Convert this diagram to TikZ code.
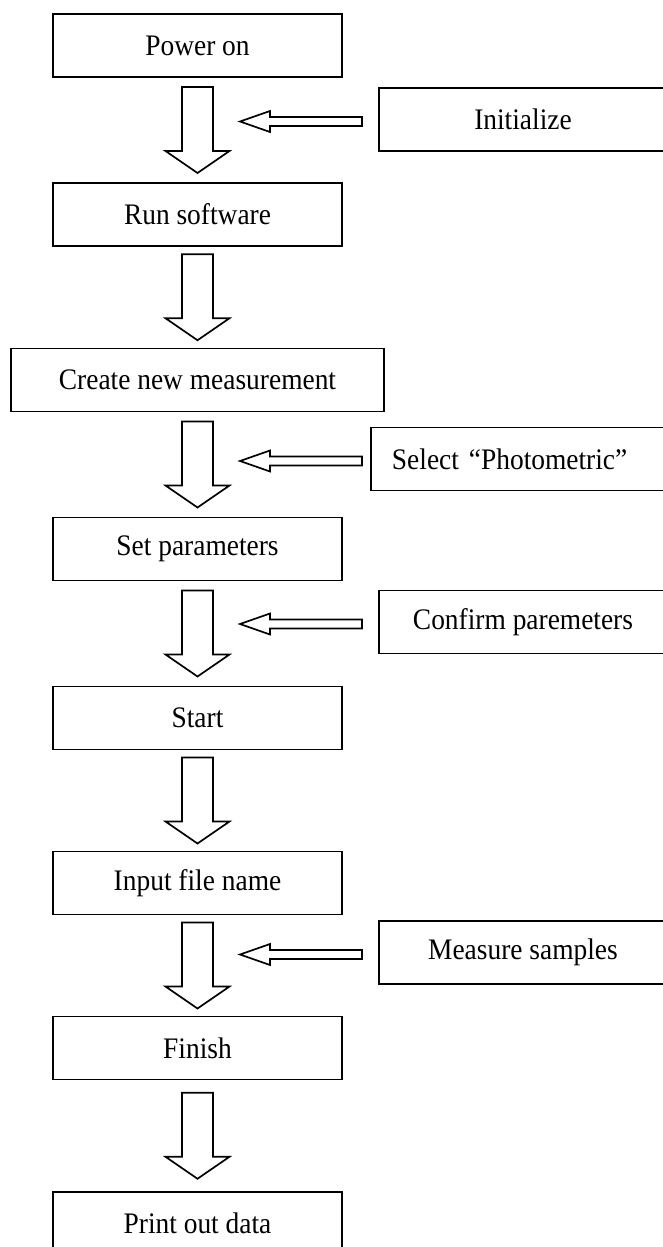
\documentclass[tikz,border=0pt]{standalone}
\usepackage{fontspec}
\setmainfont{Liberation Serif}[FakeStretch=0.92]
\usetikzlibrary{calc}
\tikzset{
  stepbox/.style={rectangle,draw,line width=1.4pt,
    minimum width=7.225cm,minimum height=1.575cm,inner sep=0pt,
    align=center,font=\fontsize{21.2pt}{25pt}\selectfont},
  widebox/.style={stepbox,minimum width=9.325cm},
  sidebox/.style={stepbox,anchor=west,minimum width=7.2cm},
  blk/.style={draw,line width=1.2pt,fill=white,line join=miter},
}
% hollow block arrow, centred between two step boxes
\newcommand{\blockdown}[2]{%
  \coordinate (#1-#2) at ($(#1.south)!0.5!(#2.north)$);
  \draw[blk] ($(#1-#2)+(-0.3875,1.075)$) -- ++(0.775,0) -- ++(0,-1.6)
    -- ++(0.4125,0) -- ($(#1-#2)+(0,-1.075)$) -- ++(-0.8,0.55)
    -- ++(0.4125,0) -- cycle;}
% hollow block arrow from a side box towards the main column
\newcommand{\blockleft}[1]{%
  \coordinate (#1-tip) at ($(#1.west -| tipline)+(0,-0.05)$);
  \draw[blk] (#1-tip) -- ++(0.75,0.2625) -- ++(0,-0.15)
    -- ($(#1.west -| shaftend)+(0,0.0625)$) -- ++(0,-0.225)
    -- ($(#1-tip)+(0.75,-0.1125)$) -- ++(0,-0.15) -- cycle;}

\begin{document}
\begin{tikzpicture}
  \useasboundingbox (0,0) rectangle (16.575,-31.175);
  \clip (0,0) rectangle (16.575,-31.175);
  \coordinate (tipline) at (6.0,0);
  \coordinate (shaftend) at (9.05,0);

  % main column
  \node[stepbox] (power) at (4.9375,-1.1375) {Power on};
  \node[stepbox] (run) at (4.9375,-5.3625) {Run software};
  \node[widebox] (create) at (4.9375,-9.5) {Create new measurement};
  \node[stepbox] (param) at (4.9375,-13.725) {Set parameters};
  \node[stepbox] (start) at (4.9375,-17.95) {Start};
  \node[stepbox] (input) at (4.9375,-22.075) {Input file name};
  \node[stepbox] (finish) at (4.9375,-26.2) {Finish};
  \node[stepbox] (print) at (4.9375,-30.5875) {Print out data};

  % side steps
  \node[sidebox] (init) at (9.45,-2.9875) {Initialize};
  \node[sidebox,minimum width=0pt,text width=6.9cm,align=left,
    inner xsep=0.525cm] (select) at (9.25,-11.475)
    {Select “Photometric”};
  \node[sidebox] (confirm) at (9.45,-15.55) {Confirm paremeters};
  \node[sidebox] (measure) at (9.45,-23.8125) {Measure samples};

  % flow arrows
  \blockdown{power}{run}
  \blockdown{run}{create}
  \blockdown{create}{param}
  \blockdown{param}{start}
  \blockdown{start}{input}
  \blockdown{input}{finish}
  \blockdown{finish}{print}

  \blockleft{init}
  \blockleft{select}
  \blockleft{confirm}
  \blockleft{measure}
\end{tikzpicture}
\end{document}
